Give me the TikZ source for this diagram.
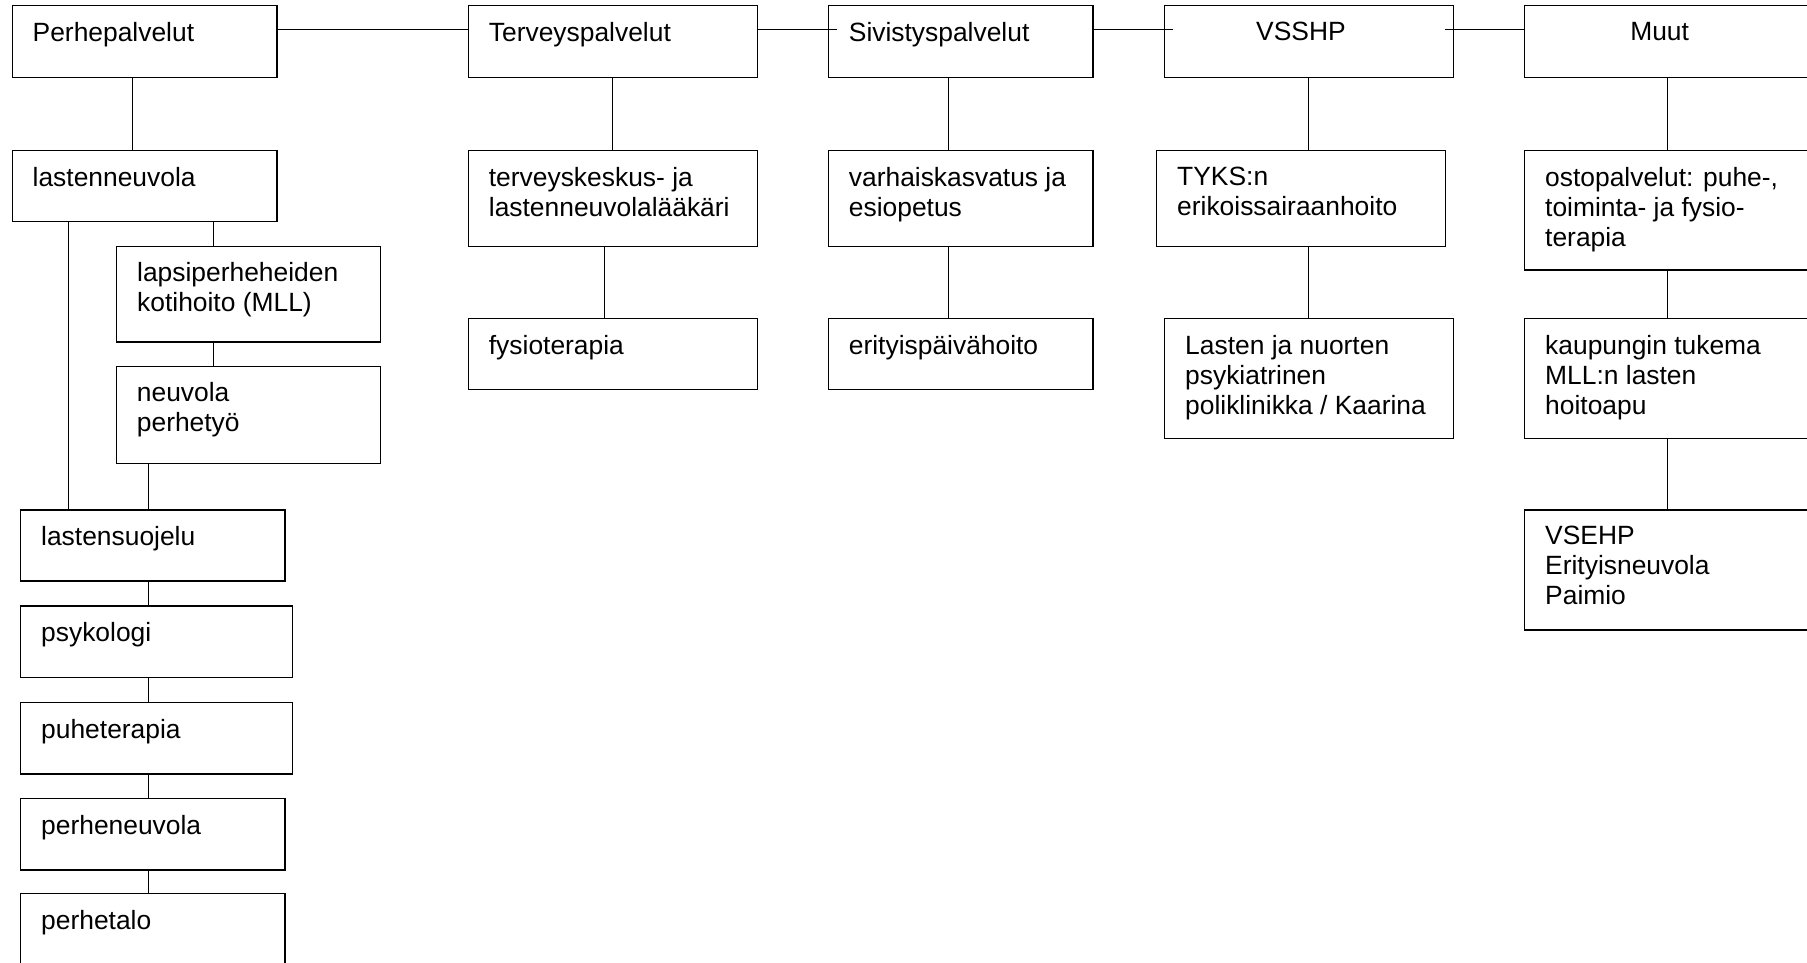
\documentclass[tikz,border=0pt]{standalone}
\usepackage{fontspec}
\setmainfont{Liberation Sans}
\begin{document}
\begin{tikzpicture}[x=1pt,y=-1pt,
  laatikko/.style={draw, line width=1.2pt, anchor=north west, inner sep=0pt},
  teksti/.style={anchor=north west, align=left, inner xsep=21pt, inner ysep=17pt,
    font=\fontsize{26.4}{30}\selectfont},
  keski/.style={anchor=north, inner xsep=0pt, inner ysep=17pt, xshift=-8pt,
    font=\fontsize{26.4}{30}\selectfont},
  yhteys/.style={line width=1pt}]
\path[use as bounding box, fill=white] (0,0) rectangle (1807,963);

% ylarivi
\node[laatikko, minimum width=264.8pt, minimum height=71.7pt, label={[teksti]north west:Perhepalvelut}] (perhe) at (11.5,5) {};
\node[laatikko, minimum width=289pt, minimum height=71.7pt, label={[teksti]north west:Terveyspalvelut}] (terv) at (467.7,5) {};
\node[laatikko, minimum width=264.6pt, minimum height=71.7pt, label={[teksti]north west:Sivistyspalvelut}] (sivis) at (827.7,5) {};
\node[laatikko, minimum width=288.7pt, minimum height=71.7pt, label={[keski]north:VSSHP}] (vsshp) at (1164,5) {};
\node[laatikko, minimum width=286pt, minimum height=71.7pt, label={[keski]north:Muut}] (muut) at (1524,5) {};

% perhepalvelut
\node[laatikko, minimum width=264.8pt, minimum height=71pt, label={[teksti]north west:lastenneuvola}] (lneuvola) at (11.5,150) {};
\node[laatikko, minimum width=264pt, minimum height=95.9pt, label={[teksti]north west:{lapsiperheheiden\\kotihoito (MLL)}}] (lapsi) at (116,245.5) {};
\node[laatikko, minimum width=264.3pt, minimum height=97.3pt, label={[teksti]north west:{neuvola\\perhetyö}}] (neuvola) at (115.7,365.5) {};
\node[laatikko, minimum width=264.3pt, minimum height=71pt, label={[teksti]north west:lastensuojelu}] (lsuojelu) at (20,509.3) {};
\node[laatikko, minimum width=271.7pt, minimum height=71.9pt, label={[teksti]north west:psykologi}] (psyk) at (20,605.3) {};
\node[laatikko, minimum width=272pt, minimum height=71.6pt, label={[teksti]north west:puheterapia}] (puhe) at (20,701.7) {};
\node[laatikko, minimum width=264.3pt, minimum height=71.6pt, label={[teksti]north west:perheneuvola}] (pneuvola) at (20,797.7) {};
\node[laatikko, minimum width=264.3pt, minimum height=75pt, label={[teksti]north west:perhetalo}] (ptalo) at (20,892.7) {};

% terveyspalvelut
\node[laatikko, minimum width=289pt, minimum height=96pt, label={[teksti]north west:{terveyskeskus- ja\\lastenneuvolalääkäri}}] (tk) at (467.7,149.7) {};
\node[laatikko, minimum width=289pt, minimum height=71.3pt, label={[teksti]north west:fysioterapia}] (fysio) at (467.7,317.7) {};

% sivistyspalvelut
\node[laatikko, minimum width=264.6pt, minimum height=96pt, label={[teksti]north west:{varhaiskasvatus ja\\esiopetus}}] (varhais) at (827.7,149.7) {};
\node[laatikko, minimum width=264.6pt, minimum height=71.3pt, label={[teksti]north west:erityispäivähoito}] (erityis) at (827.7,317.7) {};

% VSSHP
\node[laatikko, minimum width=289pt, minimum height=96pt, label={[teksti]north west:{TYKS:n\\erikoissairaanhoito}}] (tyks) at (1156,149.7) {};
\node[laatikko, minimum width=288.7pt, minimum height=120pt, label={[teksti]north west:{Lasten ja nuorten\\psykiatrinen\\poliklinikka / Kaarina}}] (lasten) at (1164,317.7) {};

% muut
\node[laatikko, minimum width=286pt, minimum height=119.6pt, label={[teksti]north west:{ostopalvelut: puhe-,\\toiminta- ja fysio-\\terapia}}] (osto) at (1524,149.7) {};
\node[laatikko, minimum width=286pt, minimum height=120pt, label={[teksti]north west:{kaupungin tukema\\MLL:n lasten\\hoitoapu}}] (kaupunki) at (1524,317.7) {};
\node[laatikko, minimum width=286pt, minimum height=120pt, label={[teksti]north west:{VSEHP\\Erityisneuvola\\Paimio}}] (vsehp) at (1524,509.3) {};

% vaakayhteydet
\draw[yhteys] ([yshift=11.5pt]perhe.east) -- ([yshift=11.5pt]terv.west);
\draw[yhteys, shorten >=-9pt] ([yshift=11.5pt]terv.east) -- ([yshift=11.5pt]sivis.west);
\draw[yhteys, shorten >=-9pt] ([yshift=11.5pt]sivis.east) -- ([yshift=11.5pt]vsshp.west);
\draw[yhteys, shorten <=-9pt] ([yshift=11.5pt]vsshp.east) -- ([yshift=11.5pt]muut.west);

% pystyyhteydet
\draw[yhteys] ([xshift=-11.9pt]perhe.south) -- ([xshift=-11.9pt]perhe.south |- lneuvola.north);
\draw[yhteys] ([xshift=-75.7pt]lneuvola.south) -- ([xshift=-75.7pt]lneuvola.south |- lsuojelu.north);
\draw[yhteys] ([xshift=-35.6pt]lapsi.north |- lneuvola.south) -- ([xshift=-35.6pt]lapsi.north);
\draw[yhteys] ([xshift=-35.6pt]lapsi.south) -- ([xshift=-35.6pt]lapsi.south |- neuvola.north);
\draw[yhteys] ([xshift=-4.45pt]lsuojelu.north |- neuvola.south) -- ([xshift=-4.45pt]lsuojelu.north);
\draw[yhteys] ([xshift=-4.45pt]lsuojelu.south) -- ([xshift=-4.45pt]lsuojelu.south |- psyk.north);
\draw[yhteys] ([xshift=-4.45pt]lsuojelu.south |- psyk.south) -- ([xshift=-4.45pt]lsuojelu.south |- puhe.north);
\draw[yhteys] ([xshift=-4.45pt]lsuojelu.south |- puhe.south) -- ([xshift=-4.45pt]lsuojelu.south |- pneuvola.north);
\draw[yhteys] ([xshift=-4.45pt]lsuojelu.south |- pneuvola.south) -- ([xshift=-4.45pt]lsuojelu.south |- ptalo.north);

\draw[yhteys] (terv) -- (tk);
\draw[yhteys] ([xshift=-8.2pt]tk.south) -- ([xshift=-8.2pt]tk.south |- fysio.north);
\draw[yhteys] ([xshift=-11.7pt]sivis.south) -- ([xshift=-11.7pt]sivis.south |- varhais.north);
\draw[yhteys] ([xshift=-11.7pt]varhais.south) -- ([xshift=-11.7pt]varhais.south |- erityis.north);
\draw[yhteys] (vsshp.south) -- (vsshp.south |- tyks.north);
\draw[yhteys] (lasten.north |- tyks.south) -- (lasten.north);
\draw[yhteys] (muut) -- (osto);
\draw[yhteys] (osto) -- (kaupunki);
\draw[yhteys] (kaupunki) -- (vsehp);
\end{tikzpicture}
\end{document}
